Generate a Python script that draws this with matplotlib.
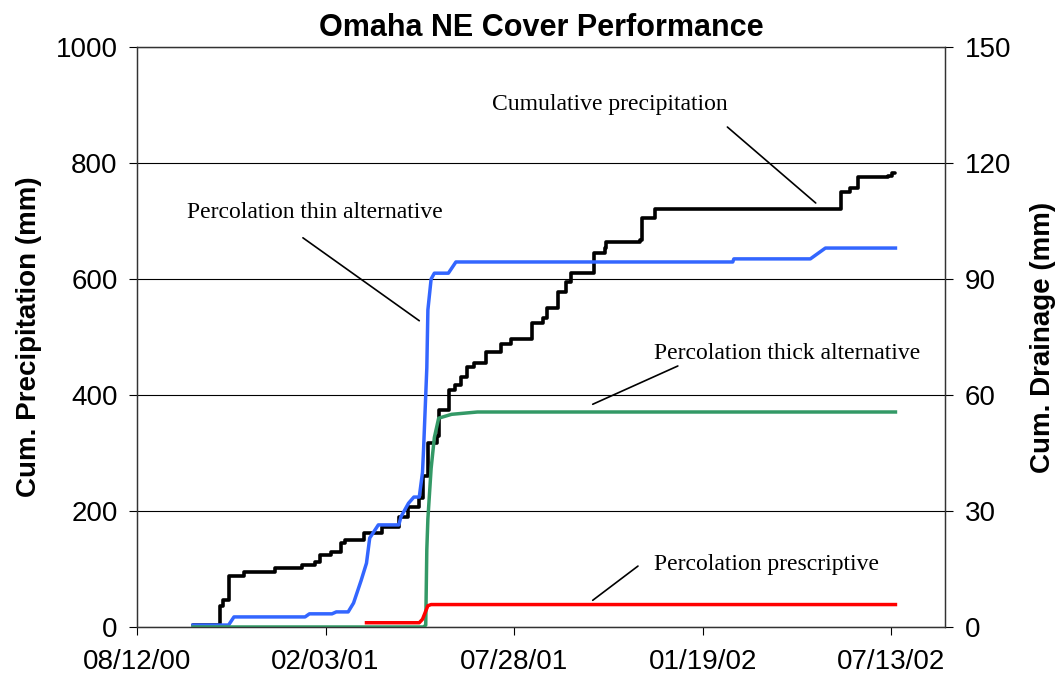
import matplotlib

matplotlib.use("Agg")
import matplotlib.dates as mdates
import matplotlib.pyplot as plt
import numpy as np

plt.rcParams["font.family"] = ["Liberation Sans", "DejaVu Sans"]

# cumulative precipitation (left axis, mm), drawn as steps
precip_dates = [
    "2000-10-03", "2000-10-28", "2000-10-31", "2000-11-05", "2000-11-19",
    "2000-12-18", "2001-01-12", "2001-01-24", "2001-01-29", "2001-02-08",
    "2001-02-17", "2001-02-21", "2001-03-11", "2001-03-27", "2001-04-12",
    "2001-04-21", "2001-05-01", "2001-05-04", "2001-05-09", "2001-05-17",
    "2001-05-19", "2001-05-29", "2001-06-03", "2001-06-09", "2001-06-14",
    "2001-06-21", "2001-07-02", "2001-07-16", "2001-07-25", "2001-08-14",
    "2001-08-24", "2001-08-28", "2001-09-07", "2001-09-14", "2001-09-19",
    "2001-10-10", "2001-10-20", "2001-10-21", "2001-11-22", "2001-11-24",
    "2001-12-06", "2002-05-27", "2002-06-05", "2002-06-12", "2002-07-10",
    "2002-07-14", "2002-07-17",
]
precip_mm = [
    3, 36, 46, 88, 95, 102, 107, 112, 124, 130, 145, 150, 162, 172, 190,
    207, 222, 260, 317, 330, 374, 409, 417, 431, 448, 455, 474, 488, 496,
    524, 533, 550, 578, 595, 610, 645, 653, 663, 667, 705, 720, 750, 757,
    776, 778, 783, 783,
]

# percolation (right axis, mm)
thin_dates = [
    "2000-10-03", "2000-11-05", "2000-11-10", "2001-01-15", "2001-01-19",
    "2001-02-09", "2001-02-13", "2001-02-24", "2001-03-01", "2001-03-08",
    "2001-03-13", "2001-03-16", "2001-03-24", "2001-04-12", "2001-04-14",
    "2001-04-21", "2001-04-26", "2001-05-01", "2001-05-04", "2001-05-05",
    "2001-05-08", "2001-05-09", "2001-05-12", "2001-05-15", "2001-05-28",
    "2001-06-04", "2002-02-16", "2002-02-17", "2002-04-29", "2002-05-13",
    "2002-07-17",
]
thin_mm = [
    0.5, 0.5, 2.6, 2.6, 3.4, 3.4, 3.9, 3.9, 6.2, 12, 16.5, 23, 26.4, 26.4,
    28.5, 32, 33.6, 33.6, 40, 46, 67, 82, 90, 91.5, 91.5, 94.4, 94.4, 95.2,
    95.2, 98, 98,
]

thick_dates = [
    "2000-10-03", "2001-05-05", "2001-05-07", "2001-05-08", "2001-05-09",
    "2001-05-12", "2001-05-15", "2001-05-19", "2001-05-31", "2001-06-24",
    "2002-07-17",
]
thick_mm = [0, 0, 0.5, 20, 28, 41, 49, 54, 55, 55.6, 55.6]

presc_dates = [
    "2001-03-13", "2001-05-01", "2001-05-04", "2001-05-09", "2001-05-12",
    "2002-07-17",
]
presc_mm = [1.1, 1.1, 2.0, 5.5, 5.8, 5.8]

x_ticks = ["2000-08-12", "2001-02-03", "2001-07-28", "2002-01-19", "2002-07-13"]


def to_dates(values):
    return np.array(values, dtype="datetime64[D]")


fig = plt.figure(figsize=(10.58, 6.85), dpi=100)
ax = fig.add_axes([0.1295, 0.0847, 0.7637, 0.8467])
ax2 = ax.twinx()

ax.plot(to_dates(precip_dates), precip_mm, drawstyle="steps-post",
        color="black", linewidth=2.6, solid_capstyle="round")
ax2.plot(to_dates(thin_dates), thin_mm, color="#3366ff", linewidth=2.5)
ax2.plot(to_dates(thick_dates), thick_mm, color="#339966", linewidth=2.5)
ax2.plot(to_dates(presc_dates), presc_mm, color="#ff0000", linewidth=2.5)

ax.set_xlim(np.datetime64("2000-08-12"), np.datetime64("2002-09-01"))
ax.set_ylim(0, 1000)
ax2.set_ylim(0, 150)
ax.set_yticks(np.arange(0, 1001, 200))
ax2.set_yticks(np.arange(0, 151, 30))
ax.set_xticks(to_dates(x_ticks))
ax.xaxis.set_major_formatter(mdates.DateFormatter("%m/%d/%y"))
ax.yaxis.grid(True, color="black", linewidth=0.8)
ax.set_axisbelow(True)

for axis in (ax, ax2):
    axis.tick_params(labelsize=20, direction="out", length=6, width=0.8)
    for spine in axis.spines.values():
        spine.set_linewidth(0.9)
        spine.set_color("#333333")
ax.tick_params(axis="x", pad=10)
ax.tick_params(axis="y", pad=8)
ax2.tick_params(axis="y", pad=8)

ax.set_ylabel("Cum. Precipitation (mm)", fontsize=20, fontweight="bold", labelpad=10)
ax2.set_ylabel("Cum. Drainage (mm)", fontsize=20, fontweight="bold", labelpad=14)
ax.set_title("Omaha NE Cover Performance", fontsize=22, fontweight="bold", pad=8)

notes = [
    ("Cumulative precipitation", "2001-10-25", 900, "2002-02-11", 862, "2002-05-04", 731),
    ("Percolation thin alternative", "2001-01-24", 714, "2001-01-13", 671, "2001-05-01", 528),
    ("Percolation thick alternative", "2002-04-07", 471, "2001-12-27", 450, "2001-10-09", 384),
    ("Percolation prescriptive", "2002-03-19", 107, "2001-11-20", 105, "2001-10-09", 46),
]
for label, tx, ty, x0, y0, x1, y1 in notes:
    ax.text(np.datetime64(tx), ty, label, fontsize=17, ha="center", va="center",
            family=["Liberation Serif", "DejaVu Serif"])
    ax.annotate("", xy=(np.datetime64(x1), y1), xytext=(np.datetime64(x0), y0),
                arrowprops=dict(arrowstyle="-", color="black", linewidth=1.2,
                                shrinkA=0, shrinkB=0))

fig.savefig("out.png", dpi=100)
plt.close(fig)
